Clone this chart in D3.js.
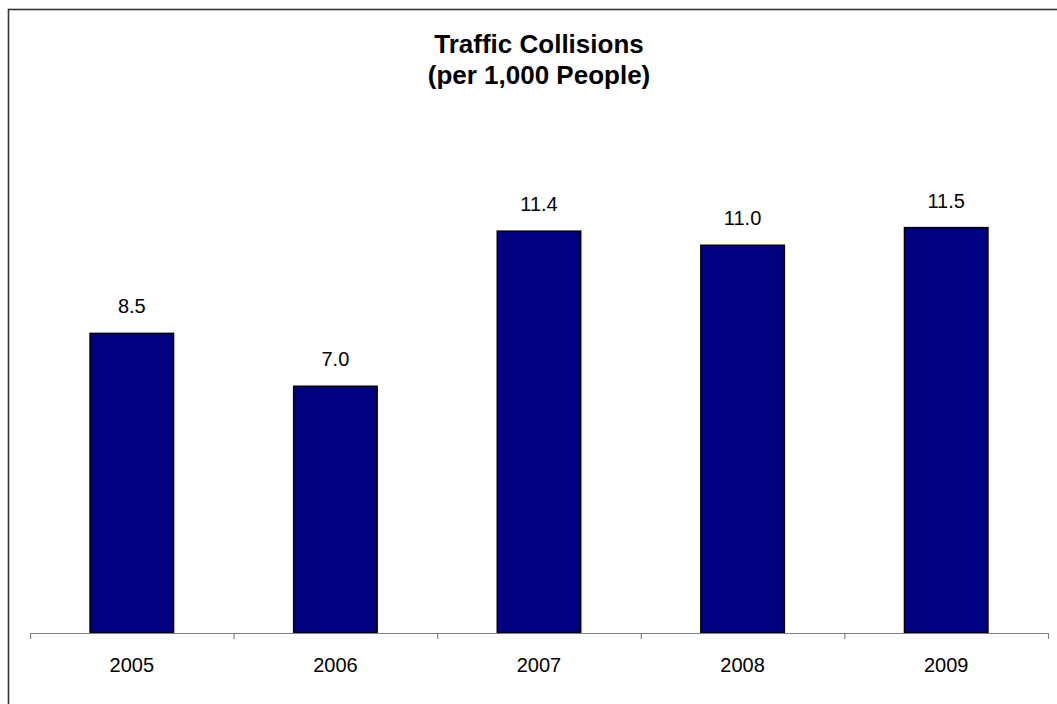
<!DOCTYPE html>
<html>
<head>
<meta charset="utf-8">
<script src="https://cdn.jsdelivr.net/npm/d3@7/dist/d3.min.js"></script>
<style>
  html, body { margin: 0; padding: 0; background: #fff; }
  svg { display: block; }
  text { font-family: "Liberation Sans", Arial, sans-serif; fill: #000; }
</style>
</head>
<body>
<svg id="chart" width="1057" height="704"></svg>
<script>
const categories = ["2005", "2006", "2007", "2008", "2009"];
const values = [8.5, 7.0, 11.4, 11.0, 11.5];
const valueLabels = ["8.5", "7.0", "11.4", "11.0", "11.5"];
const titleLines = ["Traffic Collisions", "(per 1,000 People)"];
const yDomain = [0, 14];

const svg = d3.select("#chart");
const W = 1057, H = 704;

// outer chart border (extends past the right/bottom edge)
svg.append("rect")
  .attr("x", 8.5).attr("y", 9.5)
  .attr("width", W + 10).attr("height", H + 10)
  .attr("fill", "#fff").attr("stroke", "#333").attr("stroke-width", 1.6);

const left = 30, right = 1048, baseline = 633;

const x = d3.scaleBand()
  .domain(categories)
  .range([left, right])
  .paddingInner(0.59)
  .paddingOuter(0.295);

const xEdges = d3.scaleLinear().domain([0, categories.length]).range([left, right]);

const y = d3.scaleLinear().domain(yDomain).range([baseline, baseline - 35.25 * 14]);

// bars
svg.append("g").selectAll("rect")
  .data(values)
  .join("rect")
  .attr("x", (d, i) => x(categories[i]))
  .attr("y", d => y(d))
  .attr("width", x.bandwidth())
  .attr("height", d => y(0) - y(d))
  .attr("fill", "#000080")
  .attr("stroke", "#000")
  .attr("stroke-width", 1.5);

// axis with boundary ticks
const axis = svg.append("g")
  .attr("transform", `translate(0,${baseline})`)
  .call(d3.axisBottom(xEdges)
    .tickValues(d3.range(0, categories.length + 1))
    .tickFormat("")
    .tickSize(6)
    .tickSizeOuter(0));
axis.select(".domain").attr("stroke", "#808080").attr("stroke-width", 1.2);
axis.selectAll(".tick line").attr("stroke", "#808080").attr("stroke-width", 1.2);

// category labels
svg.append("g").selectAll("text")
  .data(categories)
  .join("text")
  .attr("x", d => x(d) + x.bandwidth() / 2)
  .attr("y", baseline + 39)
  .attr("text-anchor", "middle")
  .style("font-size", "20px")
  .text(d => d);

// value labels
svg.append("g").selectAll("text")
  .data(values)
  .join("text")
  .attr("x", (d, i) => x(categories[i]) + x.bandwidth() / 2)
  .attr("y", d => y(d) - 20)
  .attr("text-anchor", "middle")
  .style("font-size", "20px")
  .text((d, i) => valueLabels[i]);

// title
svg.append("g").selectAll("text")
  .data(titleLines)
  .join("text")
  .attr("x", 539)
  .attr("y", (d, i) => 53 + i * 31)
  .attr("text-anchor", "middle")
  .style("font-size", "26px")
  .style("font-weight", "bold")
  .text(d => d);
</script>
</body>
</html>
